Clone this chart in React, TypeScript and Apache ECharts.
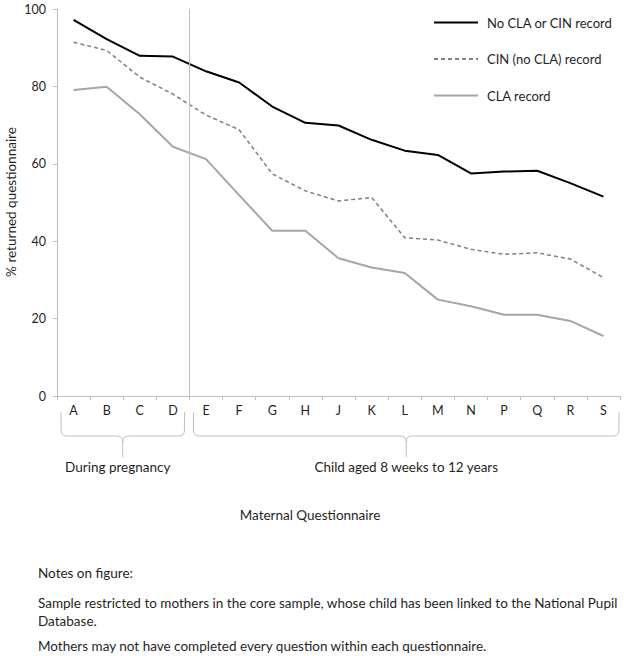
import React, { useEffect, useRef } from "react";
import * as echarts from "echarts";

const categories = ["A", "B", "C", "D", "E", "F", "G", "H", "J", "K", "L", "M", "N", "P", "Q", "R", "S"];
const noRecord = [97.2, 92.2, 87.9, 87.7, 83.9, 81.0, 74.8, 70.6, 69.9, 66.2, 63.4, 62.3, 57.5, 58.0, 58.2, 55.0, 51.5];
const cinRecord = [91.4, 89.3, 82.4, 78.0, 72.6, 68.8, 57.4, 53.0, 50.4, 51.3, 40.9, 40.3, 37.9, 36.6, 37.0, 35.4, 30.6];
const claRecord = [79.1, 79.9, 72.8, 64.4, 61.2, 51.9, 42.7, 42.7, 35.6, 33.2, 31.8, 24.9, 23.2, 21.0, 21.0, 19.4, 15.5];
const seriesNames = ["No CLA or CIN record", "CIN (no CLA) record", "CLA record"];
const groupLabels = ["During pregnancy", "Child aged 8 weeks to 12 years"];
const groupStarts = [0, 4];
const groupEnds = [4, 17];
const xTitle = "Maternal Questionnaire";
const yTitle = "% returned questionnaire";
const notes = [
  "Notes on figure:",
  "Sample restricted to mothers in the core sample, whose child has been linked to the National Pupil",
  "Database.",
  "Mothers may not have completed every question within each questionnaire.",
];

const FONT = "Lato";
const TXT = "#1f1f1f";
const AXIS = "#bfbfbf";

const Brace = echarts.graphic.extendShape({
  shape: { x1: 0, x2: 0, top: 0, mid: 0, tip: 0, r: 6 },
  buildPath(ctx: any, s: any) {
    const xm = (s.x1 + s.x2) / 2;
    ctx.moveTo(s.x1, s.top);
    ctx.lineTo(s.x1, s.mid - s.r);
    ctx.quadraticCurveTo(s.x1, s.mid, s.x1 + s.r, s.mid);
    ctx.lineTo(xm - s.r, s.mid);
    ctx.quadraticCurveTo(xm, s.mid, xm, s.mid + s.r);
    ctx.lineTo(xm, s.tip);
    ctx.moveTo(xm, s.mid + s.r);
    ctx.quadraticCurveTo(xm, s.mid, xm + s.r, s.mid);
    ctx.lineTo(s.x2 - s.r, s.mid);
    ctx.quadraticCurveTo(s.x2, s.mid, s.x2, s.mid - s.r);
    ctx.lineTo(s.x2, s.top);
  },
});
echarts.graphic.registerShape("brace", Brace);

export default function App() {
  const ref = useRef<HTMLDivElement>(null);
  useEffect(() => {
    document.body.style.margin = "0";
    const chart = echarts.init(ref.current!, null, { renderer: "svg" });
    chart.setOption({
      animation: false,
      textStyle: { fontFamily: FONT },
      grid: { left: 57, right: 4, top: 9, bottom: 260, outerBoundsMode: "none", containLabel: false },
      legend: {
        data: seriesNames,
        orient: "vertical",
        left: 428,
        top: 11,
        itemWidth: 44,
        itemHeight: 14,
        itemGap: 23.5,
        itemStyle: { opacity: 0, color: "transparent", borderWidth: 0 },
        textStyle: { fontFamily: FONT, fontSize: 13, color: TXT, padding: [0, 0, 0, 4] },
      },
      xAxis: [
        {
          type: "category",
          data: categories,
          boundaryGap: true,
          axisLine: { lineStyle: { color: AXIS } },
          axisTick: { show: true, length: 4, lineStyle: { color: AXIS } },
          axisLabel: { fontFamily: FONT, fontSize: 12.5, color: TXT, margin: 8 },
        },
        { type: "value", min: 0, max: 17, show: false },
      ],
      yAxis: {
        type: "value",
        min: 0,
        max: 100,
        interval: 20,
        axisLine: { show: true, lineStyle: { color: AXIS } },
        axisTick: { show: true, length: 4, lineStyle: { color: AXIS } },
        splitLine: { show: false },
        axisLabel: { fontFamily: FONT, fontSize: 12.5, color: TXT, margin: 11 },
      },
      series: [
        {
          name: seriesNames[0],
          type: "line",
          data: noRecord,
          symbol: "none",
          lineStyle: { color: "#000000", width: 2 },
          itemStyle: { color: "#000000" },
        },
        {
          name: seriesNames[1],
          type: "line",
          data: cinRecord,
          symbol: "none",
          lineStyle: { color: "#7f7f7f", width: 1.5, type: [4, 3] },
          itemStyle: { color: "#7f7f7f" },
        },
        {
          name: seriesNames[2],
          type: "line",
          data: claRecord,
          symbol: "none",
          lineStyle: { color: "#a6a6a6", width: 2 },
          itemStyle: { color: "#a6a6a6" },
        },
        {
          name: "divider",
          type: "line",
          xAxisIndex: 1,
          data: [],
          markLine: {
            silent: true,
            symbol: "none",
            label: { show: false },
            lineStyle: { color: AXIS, type: "solid", width: 1 },
            data: [{ xAxis: groupEnds[0] }],
          },
        },
      ],
    });

    const px = (v: number) => chart.convertToPixel({ xAxisIndex: 1 }, v) as number;
    const graphics: any[] = [];
    graphics.push({
      type: "text",
      x: 11,
      y: 202,
      rotation: Math.PI / 2,
      style: { text: yTitle, fontFamily: FONT, fontSize: 13.5, fill: TXT, align: "center", verticalAlign: "middle" },
    });
    groupLabels.forEach((label, i) => {
      const x1 = px(groupStarts[i]) + 4;
      const x2 = px(groupEnds[i]) - (i === groupLabels.length - 1 ? 1 : 5);
      graphics.push({
        type: "brace",
        shape: { x1, x2, top: 412, mid: 436, tip: 457, r: 6 },
        style: { stroke: AXIS, fill: "none", lineWidth: 1 },
        silent: true,
      });
      graphics.push({
        type: "text",
        x: (x1 + x2) / 2 - (i === 0 ? 5 : 0),
        y: 467,
        style: {
          text: label,
          fontFamily: FONT,
          fontSize: 13.5,
          fill: TXT,
          align: "center",
          verticalAlign: "middle",
        },
      });
    });
    graphics.push({
      type: "text",
      x: 310,
      y: 515,
      style: { text: xTitle, fontFamily: FONT, fontSize: 13.5, fill: TXT, align: "center", verticalAlign: "middle" },
    });
    const noteY = [573, 603, 621, 646];
    notes.forEach((t, i) => {
      graphics.push({
        type: "text",
        x: 38,
        y: noteY[i],
        style: { text: t, fontFamily: FONT, fontSize: 13.5, fill: TXT, align: "left", verticalAlign: "middle" },
      });
    });
    chart.setOption({ graphic: graphics });

    return () => chart.dispose();
  }, []);
  return <div ref={ref} style={{ width: 624, height: 656 }} />;
}
